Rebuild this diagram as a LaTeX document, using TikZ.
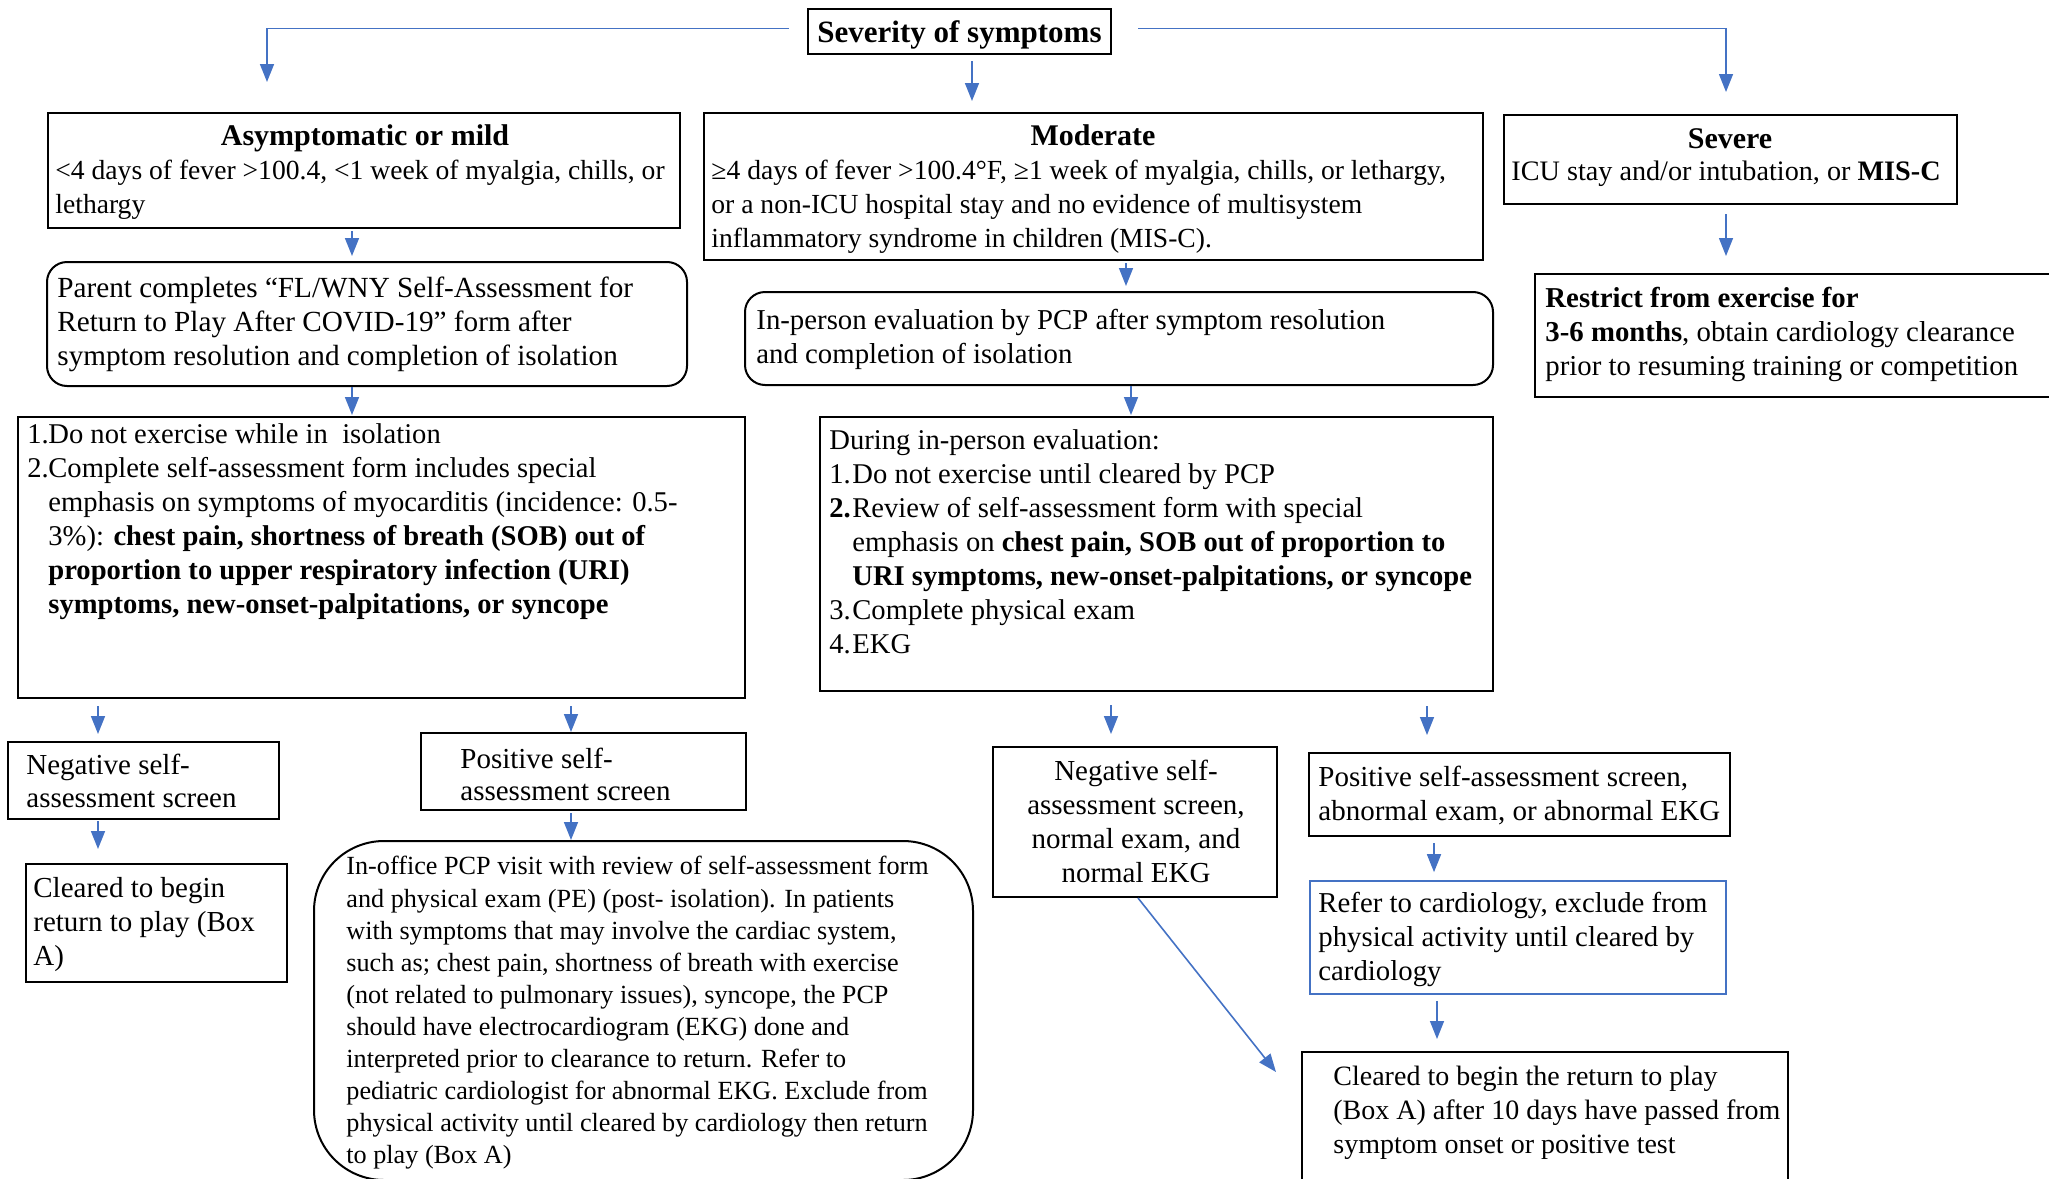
\documentclass[tikz,border=0pt]{standalone}
\usepackage{fontspec}
\setmainfont{Liberation Serif}
\usetikzlibrary{arrows.meta,calc,fit}
\definecolor{arrblue}{HTML}{4472C4}
\newcommand{\vconn}[5]{\coordinate (tmp) at (#1,0);
  \draw[arr] ($(tmp |- #2.south)+(0,#4)$) -- ($(tmp |- #3.north)+(0,-#5)$);}
\begin{document}
\begin{tikzpicture}[x=0.5pt,y=-0.5pt,
  box/.style={draw=black,line width=1pt,inner sep=0pt},
  rbox/.style={box,rounded corners=10pt},
  arr/.style={draw=arrblue,line width=0.8pt,-{Triangle[width=7pt,length=9pt]}},
  body/.style={inner sep=0pt,align=left,font=\fontsize{#1}{17}\selectfont},
  body/.default=13.8,
  head/.style={inner sep=0pt,anchor=base,font=\fontsize{15}{17}\selectfont\bfseries}]
\useasboundingbox (0,0) rectangle (2049,1178);
\clip (0,0) rectangle (2049,1178);

% top
\node[box,fit={(808,9)(1111,54)}] (sev) {};
\node[head,font=\fontsize{15.5}{17}\selectfont\bfseries] (sevT) at (959.5,42) {Severity of symptoms};

\node[box,fit={(48,113)(680,228)}] (asym) {};
\node[head] (asymH) at (365,145) {Asymptomatic or mild};
\node[body,anchor=west] (asymT) at (55,189.5) {<4 days of fever >100.4, <1 week of myalgia, chills, or\\lethargy};

\node[box,fit={(704,113)(1483,260)}] (mod) {};
\node[head] (modH) at (1093,145.5) {Moderate};
\node[body,anchor=west] (modT) at (711,206.5) {≥4 days of fever >100.4°F, ≥1 week of myalgia, chills, or lethargy,\\or a non-ICU hospital stay and no evidence of multisystem\\inflammatory syndrome in children (MIS-C).};

\node[box,fit={(1504,115)(1957,204)}] (sevr) {};
\node[head] (sevrH) at (1730,148) {Severe};
\node[body=14.1,anchor=west] (sevrT) at (1511,173.5) {ICU stay and/or intubation, or \textbf{MIS-C}};

% second row
\node[rbox,fit={(47,262)(687,386)}] (par) {};
\node[body=14.6,anchor=west] (parT) at (57,324.5) {Parent completes “FL/WNY Self-Assessment for\\Return to Play After COVID-19” form after\\symptom resolution and completion of isolation};

\node[rbox,fit={(745,292)(1493,385)}] (inp) {};
\node[body=14.4,anchor=west] (inpT) at (756,339.5) {In-person evaluation by PCP after symptom resolution\\and completion of isolation};

\node[box,fit={(1535,274)(2070,397)}] (res) {};
\node[body=14.4,anchor=west] (resT) at (1545,334) {\textbf{Restrict from exercise for}\\\textbf{3-6 months}, obtain cardiology clearance\\prior to resuming training or competition};

% lists
\node[box,fit={(18,417)(745,698)}] (lst) {};
\node[body=14.3,anchor=west] (lstT) at (27,521.5) {\makebox[10.5pt][l]{1.}Do not exercise while in~ isolation\\
\makebox[10.5pt][l]{2.}Complete self-assessment form includes special\\
\hspace*{10.5pt}emphasis on symptoms of myocarditis (incidence: 0.5-\\
\hspace*{10.5pt}3\%): \textbf{chest pain, shortness of breath (SOB) out of}\\
\hspace*{10.5pt}\textbf{proportion to upper respiratory infection (URI)}\\
\hspace*{10.5pt}\textbf{symptoms, new-onset-palpitations, or syncope}};

\node[box,fit={(820,417)(1493,691)}] (dur) {};
\node[body=14.3,anchor=west] (durT) at (829,542) {During in-person evaluation:\\
\makebox[11.5pt][l]{1.}Do not exercise until cleared by PCP\\
\makebox[11.5pt][l]{\textbf{2.}}Review of self-assessment form with special\\
\hspace*{11.5pt}emphasis on \textbf{chest pain, SOB out of proportion to}\\
\hspace*{11.5pt}\textbf{URI symptoms, new-onset-palpitations, or syncope}\\
\makebox[11.5pt][l]{3.}Complete physical exam\\
\makebox[11.5pt][l]{4.}EKG};

% left branch
\node[box,fit={(8,742)(279,819)}] (negA) {};
\node[body,font=\fontsize{14.5}{16.4}\selectfont,anchor=west] (negAT) at (26,781) {Negative self-\\assessment screen};

\node[box,fit={(26,864)(287,982)}] (clrA) {};
\node[body=14.5,anchor=west] (clrAT) at (33,924.5) {Cleared to begin\\return to play (Box\\A)};

\node[box,fit={(421,733)(746,810)}] (posA) {};
\node[body,font=\fontsize{14.5}{16.4}\selectfont,anchor=west] (posAT) at (460,774.5) {Positive self-\\assessment screen};

\node[box,rounded corners=35pt,fit={(314,841)(973,1180)}] (off) {};
\node[body,anchor=west,font=\fontsize{13.1}{16.05}\selectfont] (offT) at (346,1013) {In-office PCP visit with review of self-assessment form\\
and physical exam (PE) (post- isolation). In patients\\
with symptoms that may involve the cardiac system,\\
such as; chest pain, shortness of breath with exercise\\
(not related to pulmonary issues), syncope, the PCP\\
should have electrocardiogram (EKG) done and\\
interpreted prior to clearance to return. Refer to\\
pediatric cardiologist for abnormal EKG. Exclude from\\
physical activity until cleared by cardiology then return\\
to play (Box A)};

% right branch
\node[box,fit={(993,747)(1277,897)}] (negB) {};
\node[body=14.5,align=center] (negBT) at (1136,821) {Negative self-\\assessment screen,\\normal exam, and\\normal EKG};

\node[box,fit={(1309,753)(1730,836)}] (posB) {};
\node[body=14.5,anchor=west] (posBT) at (1318,795.5) {Positive self-assessment screen,\\abnormal exam, or abnormal EKG};

\node[box,draw=arrblue,line width=0.8pt,fit={(1310,881)(1726,994)}] (ref) {};
\node[body=14.4,anchor=west] (refT) at (1318,939.5) {Refer to cardiology, exclude from\\physical activity until cleared by\\cardiology};

\node[box,fit={(1302,1052)(1788,1200)}] (clrB) {};
\node[body=14.0,anchor=west] (clrBT) at (1333,1112.5) {Cleared to begin the return to play\\(Box A) after 10 days have passed from\\symptom onset or positive test};

% connectors
\coordinate (c1) at (267,0);
\coordinate (c3) at (1726,0);
\draw[arr] ($(sev.west)+(-18,-3)$) -| ($(asym.north -| c1)+(0,-30)$);
\draw[arr] ($(sev.east)+(26,-3)$) -| ($(sevr.north -| c3)+(0,-22)$);
\vconn{972}{sev}{mod}{6}{11}
\vconn{352}{asym}{par}{2}{5}
\vconn{1126}{mod}{inp}{2}{5}
\vconn{1726}{sevr}{res}{9}{17}
\vconn{352}{par}{lst}{0}{1}
\vconn{1131}{inp}{dur}{0}{1}
\vconn{98}{lst}{negA}{7}{7}
\vconn{571}{lst}{posA}{7}{0}
\vconn{98}{negA}{clrA}{1}{14}
\vconn{571}{posA}{off}{2}{0}
\vconn{1111}{dur}{negB}{13}{12}
\vconn{1427}{dur}{posB}{14}{17}
\vconn{1434}{posB}{ref}{6}{8}
\vconn{1437}{ref}{clrB}{6}{12}
\draw[arr] ($(negB.south)+(3,0)$) -- ($(clrB.north west)+(-25,21)$);
\end{tikzpicture}
\end{document}
